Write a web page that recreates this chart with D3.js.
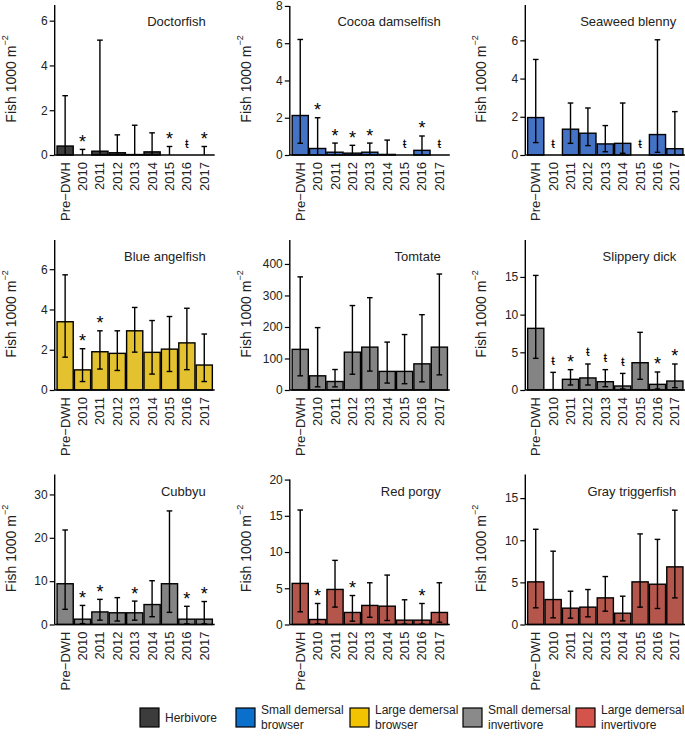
<!DOCTYPE html>
<html><head><meta charset="utf-8">
<script src="https://cdn.jsdelivr.net/npm/d3@7"></script>
<style>body{margin:0;background:#fff} svg{display:block;font-family:"Liberation Sans",Arial,sans-serif}</style>
</head><body><svg id="c" width="685" height="740"></svg>
<script>
// ---------- data ----------
const years = ["Pre\u2212DWH","2010","2011","2012","2013","2014","2015","2016","2017"];
const species = ["Doctorfish","Cocoa damselfish","Seaweed blenny","Blue angelfish","Tomtate","Slippery dick","Cubbyu","Red porgy","Gray triggerfish"];
const speciesGroup = [0,1,1,2,3,3,3,4,4];
const groupNames = [["Herbivore"],["Small demersal","browser"],["Large demersal","browser"],["Small demersal","invertivore"],["Large demersal","invertivore"]];
const barColors = ["#3c3c3c","#4472c4","#e4c12f","#848484","#b5564c"];
const legendColors = ["#3c3c3c","#0b6fcc","#f2c300","#8a8a8a","#d4534a"];
const yMax = [6.7, 8.05, 7.85, 7.45, 476, 19.9, 34.6, 20.7, 17.8];
const axisTop = [6.7, 8, 7.85, 7.45, 476, 19.9, 34.6, 20, 17.8];
const yTicks = [[0,2,4,6],[0,2,4,6,8],[0,2,4,6],[0,2,4,6],[0,100,200,300,400],[0,5,10,15],[0,10,20,30],[0,5,10,15,20],[0,5,10,15]];

const doctorfishMean  = [0.4, 0, 0.17, 0.1, 0.02, 0.14, 0, null, 0];
const doctorfishLower = [0, 0, 0, 0, 0, 0, 0, null, 0];
const doctorfishUpper = [2.65, 0.25, 5.13, 0.9, 1.33, 0.99, 0.38, null, 0.38];
const doctorfishSig   = ["","*","","","","","*","\u0167","*"];

const cocoaMean  = [2.12, 0.35, 0.15, 0.1, 0.15, 0.03, null, 0.25, null];
const cocoaLower = [0.63, 0, 0, 0, 0, 0, null, 0, null];
const cocoaUpper = [6.2, 2.0, 0.64, 0.52, 0.64, 0.8, null, 1.02, null];
const cocoaSig   = ["","*","*","*","*","","\u0167","*","\u0167"];

const seaweedMean  = [1.96, null, 1.35, 1.14, 0.58, 0.61, null, 1.07, 0.33];
const seaweedLower = [0.65, null, 0.61, 0.49, 0.17, 0.09, null, 0.14, 0];
const seaweedUpper = [5.0, null, 2.72, 2.46, 1.54, 2.72, null, 6.03, 2.27];
const seaweedSig   = ["","\u0167","","","","","\u0167","",""];

const angelMean  = [3.39, 1.0, 1.9, 1.82, 2.94, 1.87, 2.03, 2.34, 1.24];
const angelLower = [1.63, 0.42, 1.04, 0.97, 1.88, 0.79, 0.92, 1.01, 0.42];
const angelUpper = [5.72, 2.05, 2.94, 2.94, 4.1, 3.45, 3.65, 4.06, 2.78];
const angelSig   = ["","*","*","","","","","",""];

const tomtateMean  = [129, 45, 27, 120, 136, 59, 59, 83, 136];
const tomtateLower = [45, 10, 10, 50, 60, 22, 20, 26, 48];
const tomtateUpper = [359, 198, 65, 268, 293, 152, 176, 239, 368];
const tomtateSig   = ["","","","","","","","",""];

const slipperyMean  = [8.18, 0.05, 1.42, 1.6, 1.1, 0.53, 3.62, 0.75, 1.19];
const slipperyLower = [4.2, 0, 0.66, 0.66, 0.44, 0.13, 1.42, 0.13, 0.31];
const slipperyUpper = [15.2, 2.34, 2.7, 3.45, 2.7, 2.2, 7.65, 2.39, 3.45];
const slipperySig   = ["","\u0167","*","\u0167","\u0167","\u0167","","*","*"];

const cubbyuMean  = [9.4, 1.23, 2.9, 2.7, 2.7, 4.6, 9.4, 1.23, 1.23];
const cubbyuLower = [3.5, 0.2, 1.0, 0.8, 1.0, 1.8, 2.8, 0.15, 0.15];
const cubbyuUpper = [21.8, 4.4, 5.8, 6.2, 5.4, 10.1, 26.2, 4.2, 5.3];
const cubbyuSig   = ["","*","*","","*","","","*","*"];

const porgyMean  = [5.67, 0.69, 4.84, 1.66, 2.63, 2.53, 0.6, 0.6, 1.66];
const porgyLower = [1.75, 0.1, 2.4, 0.46, 1.0, 0.55, 0.05, 0.05, 0.32];
const porgyUpper = [15.8, 2.9, 8.85, 4.0, 5.76, 6.82, 3.41, 2.9, 5.76];
const porgySig   = ["","*","","*","","","","*",""];

const triggerMean  = [5.06, 2.96, 1.94, 2.06, 3.16, 1.34, 5.06, 4.78, 6.84];
const triggerLower = [1.98, 0.79, 0.75, 0.91, 1.58, 0.43, 2.06, 1.9, 3.16];
const triggerUpper = [11.3, 8.7, 3.95, 4.15, 5.69, 3.36, 10.75, 10.1, 13.56];
const triggerSig   = ["","","","","","","","",""];

const means  = [doctorfishMean, cocoaMean, seaweedMean, angelMean, tomtateMean, slipperyMean, cubbyuMean, porgyMean, triggerMean];
const lowers = [doctorfishLower, cocoaLower, seaweedLower, angelLower, tomtateLower, slipperyLower, cubbyuLower, porgyLower, triggerLower];
const uppers = [doctorfishUpper, cocoaUpper, seaweedUpper, angelUpper, tomtateUpper, slipperyUpper, cubbyuUpper, porgyUpper, triggerUpper];
const sigs   = [doctorfishSig, cocoaSig, seaweedSig, angelSig, tomtateSig, slipperySig, cubbyuSig, porgySig, triggerSig];

// ---------- layout ----------
const colX = [54.7, 289.8, 525.3];
const rowBase = [155, 390, 624.5];
const H = 150, W = 160;
const svg = d3.select("#c");

function drawPanel(i){
  const gx = colX[i % 3], gy = rowBase[Math.floor(i / 3)] - H;
  const g = svg.append("g").attr("transform", `translate(${gx},${gy})`);
  const y = d3.scaleLinear().domain([0, yMax[i]]).range([H, 0]);
  const x = d3.scaleBand().domain(years).range([2, 158]).paddingInner(0.07).paddingOuter(0.02);
  const bw = x.bandwidth();
  const color = barColors[speciesGroup[i]];
  const rows = years.map((yr, k) => ({yr, m: means[i][k], lo: lowers[i][k], hi: uppers[i][k], s: sigs[i][k]}));

  // bars
  g.selectAll("rect.bar").data(rows.filter(d => d.m !== null && d.m > 0)).enter().append("rect")
    .attr("x", d => x(d.yr)).attr("y", d => y(d.m))
    .attr("width", bw).attr("height", d => H - y(d.m))
    .attr("fill", color).attr("stroke", "#000").attr("stroke-width", 1.4);

  // error bars
  const eb = g.selectAll("g.eb").data(rows.filter(d => d.hi !== null)).enter().append("g")
    .attr("stroke", "#000").attr("stroke-width", 1.4);
  eb.append("line").attr("x1", d => x(d.yr) + bw/2).attr("x2", d => x(d.yr) + bw/2)
    .attr("y1", d => y(d.lo)).attr("y2", d => y(d.hi));
  eb.append("line").attr("x1", d => x(d.yr) + bw/2 - 2.8).attr("x2", d => x(d.yr) + bw/2 + 2.8)
    .attr("y1", d => y(d.hi)).attr("y2", d => y(d.hi));
  eb.filter(d => d.lo > 0).append("line").attr("x1", d => x(d.yr) + bw/2 - 2.8).attr("x2", d => x(d.yr) + bw/2 + 2.8)
    .attr("y1", d => y(d.lo)).attr("y2", d => y(d.lo));

  // significance marks
  g.selectAll("text.sig").data(rows.filter(d => d.s)).enter().append("text")
    .attr("x", d => x(d.yr) + bw/2)
    .attr("y", d => d.s === "*" ? y(d.hi === null ? 0 : d.hi) - 1.5 : y(d.hi === null ? 0 : d.hi) - 7.5)
    .attr("text-anchor", "middle")
    .attr("font-size", d => d.s === "*" ? 18 : 13)
    .attr("fill", "#000")
    .text(d => d.s);

  // axes
  const ax = g.append("g").call(d3.axisLeft(y).tickValues(yTicks[i]).tickFormat(d3.format("d")).tickSize(5).tickPadding(2));
  ax.select(".domain").remove();
  ax.selectAll("text").attr("font-size", 12).attr("font-family", "Liberation Sans, Arial, sans-serif").attr("fill", "#222");
  ax.selectAll("line").attr("stroke", "#000").attr("stroke-width", 1.2);
  g.append("line").attr("x1", 0).attr("x2", 0).attr("y1", H).attr("y2", y(axisTop[i])).attr("stroke", "#000").attr("stroke-width", 1.4);
  g.append("line").attr("x1", 0).attr("x2", W).attr("y1", H).attr("y2", H).attr("stroke", "#000").attr("stroke-width", 1.4);

  // x labels
  g.selectAll("text.xl").data(years).enter().append("text")
    .attr("transform", d => `translate(${x(d) + bw/2},${H + 7}) rotate(-90)`)
    .attr("text-anchor", "end").attr("dominant-baseline", "central")
    .attr("font-size", 13).attr("fill", "#222").text(d => d);

  // title
  g.append("text").attr("x", W - 9).attr("y", 21).attr("text-anchor", "end")
    .attr("font-size", 13).attr("fill", "#222").text(species[i]);

  // y title
  const yt = g.append("text").attr("transform", `translate(-44,${H/2 - 1}) rotate(-90)`)
    .attr("text-anchor", "middle").attr("dominant-baseline", "central")
    .attr("font-size", 14).attr("fill", "#222");
  yt.append("tspan").text("Fish 1000 m");
  yt.append("tspan").attr("font-size", 9).attr("dy", -6).text("\u22122");
}
species.forEach((s, i) => drawPanel(i));

// ---------- legend ----------
const legX = [140, 236, 350, 463, 576];
const leg = svg.append("g");
groupNames.forEach((lines, k) => {
  const lg = leg.append("g").attr("transform", `translate(${legX[k]},708)`);
  lg.append("rect").attr("width", 19).attr("height", 19).attr("fill", legendColors[k]).attr("stroke", "#000").attr("stroke-width", 1.2);
  const t = lg.append("text").attr("x", 25).attr("font-size", 12).attr("fill", "#222");
  if (lines.length === 1) {
    t.append("tspan").attr("x", 25).attr("y", 14).text(lines[0]);
  } else {
    lines.forEach((ln, j) => t.append("tspan").attr("x", 25).attr("y", 6 + j * 15).text(ln));
  }
});
</script></body></html>
